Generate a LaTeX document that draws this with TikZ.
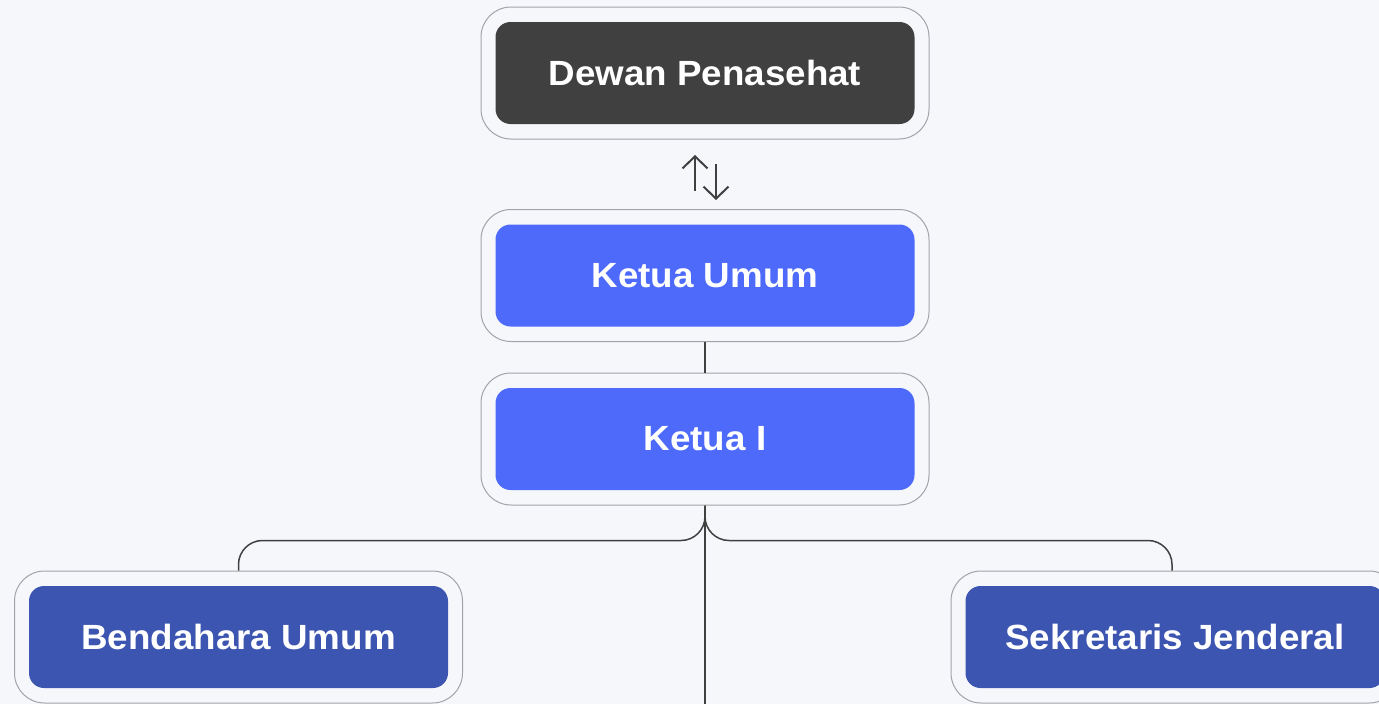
\documentclass[tikz,border=0pt]{standalone}
\usepackage{fontspec}
\setmainfont{Liberation Sans}
\newfontfamily\labelfont{Liberation Sans}[FakeStretch=1.05]
\usetikzlibrary{arrows.meta}
\definecolor{bg}{HTML}{F6F7FB}
\definecolor{outerline}{HTML}{A2A3AA}
\definecolor{darkbox}{HTML}{404040}
\definecolor{bluebox}{HTML}{4D6AFA}
\definecolor{navybox}{HTML}{3C55B1}
\definecolor{connline}{HTML}{404040}
\tikzset{
  outerbox/.style={draw=outerline, line width=1pt, fill=bg, rounded corners=30pt,
    minimum width=448pt, minimum height=132pt, inner sep=0pt},
  innerbox/.style={rounded corners=15pt, minimum width=419pt, minimum height=102pt,
    inner sep=0pt, text=white, font=\labelfont\fontsize{35}{40}\selectfont\bfseries},
  conn/.style={draw=connline, line width=1.5pt},
  flowarrow/.style={draw=connline, line width=2pt, -{Straight Barb[length=12pt,width=25pt,line width=2pt]}},
}
\begin{document}
\begin{tikzpicture}[x=1pt,y=-1pt]
\useasboundingbox[fill=bg] (0,0) rectangle (1379,704);
% outer frames
\node[outerbox] (dp) at (705,73) {};
\node[outerbox] (ku) at (705,275.5) {};
\node[outerbox] (k1) at (705,439) {};
\node[outerbox] (bu) at (238.5,637) {};
\node[outerbox] (sj) at (1175,637) {};
% inner boxes
\node[innerbox, fill=darkbox] (dpi) at (dp) {Dewan Penasehat};
\node[innerbox, fill=bluebox] (kui) at (ku) {Ketua Umum};
\node[innerbox, fill=bluebox] (k1i) at (k1) {Ketua I};
\node[innerbox, fill=navybox] (bui) at (bu) {Bendahara Umum};
\node[innerbox, fill=navybox] (sji) at (sj) {Sekretaris Jenderal};
% two-way arrow icon
\coordinate (upS) at (695,191);
\coordinate (upT) at (695,155);
\coordinate (dnS) at (716,164);
\coordinate (dnT) at (716,200);
\draw[flowarrow] (upS) -- (upT);
\draw[flowarrow] (dnS) -- (dnT);
% connectors
\draw[conn] (ku.south) -- (k1.north);
\coordinate (downend) at (705,706);
\draw[conn] (k1.south) -- (downend);
\draw[conn, rounded corners=24pt] (k1.south) -- ++(0,35) -| (bu.north);
\draw[conn, rounded corners=24pt] (k1.south) -- ++(0,35) -| ([xshift=-3pt]sj.north);
\end{tikzpicture}
\end{document}
